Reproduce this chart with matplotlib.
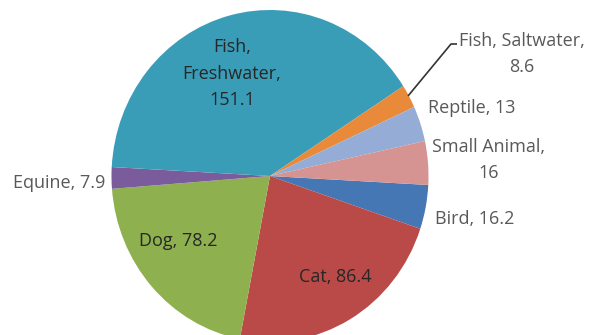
import matplotlib.pyplot as plt

# pet categories, spending values (in Excel series order)
pets = ['Bird', 'Cat', 'Dog', 'Equine', 'Fish, Freshwater',
        'Fish, Saltwater', 'Reptile', 'Small Animal']
spend = [16.2, 86.4, 78.2, 7.9, 151.1, 8.6, 13, 16]
colors = ['#4677b5', '#b94a48', '#8fb04e', '#7a5c9c', '#3a9db8',
          '#e98a3b', '#95add6', '#d59392']

# label text as it wraps in the picture
label_text = ['Bird, 16.2', 'Cat, 86.4', 'Dog, 78.2', 'Equine, 7.9',
              'Fish,\nFreshwater,\n151.1', 'Fish, Saltwater,\n8.6',
              'Reptile, 13', 'Small Animal,\n16']

W, H = 589, 335
fig = plt.figure(figsize=(W/100, H/100), dpi=100)
ax = fig.add_axes([0, 0, 1, 1])
ax.pie(spend, colors=colors, startangle=-3.1, counterclock=False,
       wedgeprops=dict(linewidth=0))

# pie is a bit taller than wide and runs off the bottom
cx, cy, rx, ry = 270, 176, 158.5, 166
ax.set_aspect('auto')
ax.set_xlim(-cx/rx, (W-cx)/rx)
ax.set_ylim(-(H-cy)/ry, cy/ry)
ax.axis('off')

def px(x, y):
    # pixel position -> data coords
    return (x-cx)/rx, (cy-y)/ry

# label placement: x, baseline of last line, align, inside?
spots = [(435, 224, 'left', False),
         (335, 282, 'center', True),
         (178, 246, 'center', True),
         (105, 188, 'right', False),
         (232, 105, 'center', True),
         (522, 72.5, 'center', False),
         (428, 113, 'left', False),
         (489, 178, 'center', False)]

for txt, (x, y, ha, inside) in zip(label_text, spots):
    ax.text(*px(x, y), txt, ha=ha, va='baseline', multialignment='center',
            fontsize=13, family='Open Sans', linespacing=1.6,
            color='#262626' if inside else '#595959')

# leader line for the small saltwater slice
lx, ly = zip(px(408, 96), px(451, 44), px(457, 44))
ax.plot(lx, ly, color='#333333', lw=1.2, solid_capstyle='butt')

fig.savefig('out.png', dpi=100)
